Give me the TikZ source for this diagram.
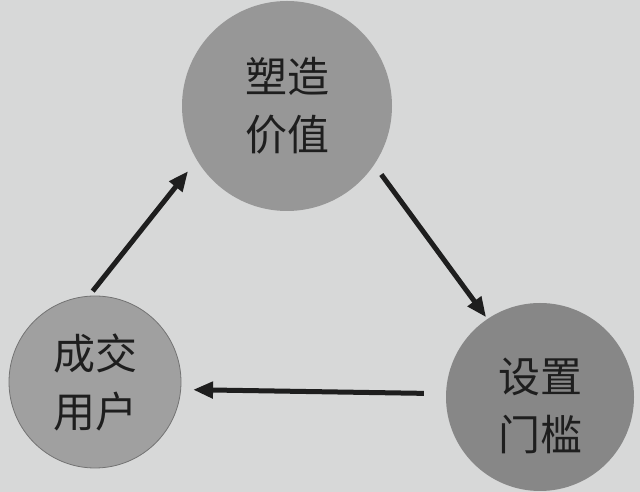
\documentclass[tikz,border=0pt]{standalone}
\usepackage{fontspec}
\newfontfamily\cjk{Noto Sans CJK SC}
\usetikzlibrary{arrows.meta}
\definecolor{bg}{HTML}{D7D8D8}
\definecolor{topfill}{HTML}{979797}
\definecolor{leftfill}{HTML}{A0A0A0}
\definecolor{rightfill}{HTML}{878787}
\definecolor{ink}{HTML}{1E1E1E}
\begin{document}
\begin{tikzpicture}[x=1pt,y=1pt,
  bubble/.style={circle,inner sep=0pt,align=center,text=ink,
    font=\cjk\fontsize{42}{58}\selectfont},
  bubbletext/.style={align=center,text=ink,inner sep=0pt,
    font=\cjk\fontsize{42}{58}\selectfont},
  arr/.style={draw=ink,line width=5pt,-{Triangle[length=20pt,width=16pt]}}]
  \fill[bg] (0,0) rectangle (640,492);
  \useasboundingbox (0,0) rectangle (640,492);
  \node[bubble,fill=topfill,minimum size=210pt] (T) at (287,386) {塑造\\价值};
  \node[bubble,fill=leftfill,draw=black!55,line width=0.8pt,minimum size=172pt] (L) at (95,110) {成交\\用户};
  \node[bubble,fill=rightfill,minimum size=188pt,
    label={[bubbletext,yshift=-9pt]center:设置\\门槛}] (R) at (540,95) {};
  \draw[arr,shorten <=6pt,shorten >=14pt] (L.94) -- (T.211);
  \draw[arr,shorten <=12pt,shorten >=2pt] (T.326) -- (R.124);
  \draw[arr,shorten <=22pt,shorten >=12pt] (R.178) -- (L.355);
\end{tikzpicture}
\end{document}
